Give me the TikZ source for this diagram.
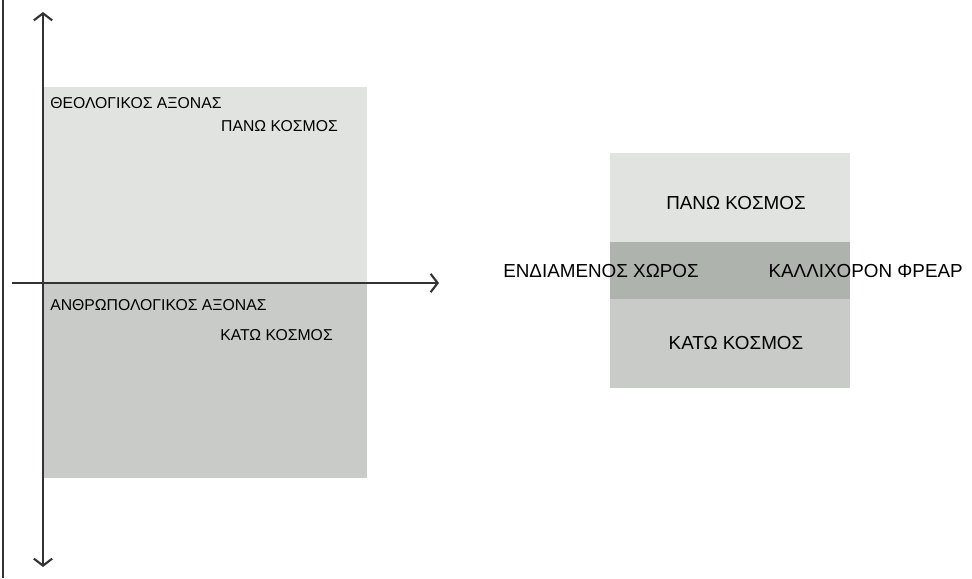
\documentclass[tikz,border=0pt]{standalone}
\usepackage{fontspec}
\setmainfont{Liberation Sans}
\usetikzlibrary{arrows.meta}

\definecolor{upper}{HTML}{E1E3E0}
\definecolor{middle}{HTML}{AEB3AD}
\definecolor{lower}{HTML}{C9CBC8}

\begin{document}
\begin{tikzpicture}[x=0.025cm,y=-0.025cm,
      axis/.style={line width=1.3pt,draw=black!80,-{Straight Barb[length=5pt,width=13pt,line width=1.5pt]}},
      small/.style={font=\fontsize{11.2}{13}\selectfont,inner sep=0pt},
      big/.style={font=\fontsize{13.4}{15}\selectfont,inner sep=0pt}]
    \useasboundingbox (0,0) rectangle (972,578);
    % left side: two worlds and the two axes
    \fill[upper] (43,87) rectangle (367,283);
    \fill[lower] (43,283) rectangle (367,478);
    \draw[line width=1.3pt,draw=black!80] (3,0) -- (3,578);
    \coordinate (top) at (43,12);
    \coordinate (bottom) at (43,567);
    \coordinate (west) at (12,283);
    \coordinate (east) at (439,283);
    \coordinate (origin) at (43,283);
    \draw[axis] (origin) -- (top);
    \draw[axis] (origin) -- (bottom);
    \draw[axis] (west) -- (east);
    \node[small,anchor=base west] (theo) at (50,108) {ΘΕΟΛΟΓΙΚΟΣ ΑΞΟΝΑΣ};
    \node[small,anchor=base east] (pano) at (338,132) {ΠΑΝΩ ΚΟΣΜΟΣ};
    \node[small,anchor=base west] (anthro) at (50,310) {ΑΝΘΡΩΠΟΛΟΓΙΚΟΣ ΑΞΟΝΑΣ};
    \node[small,anchor=base east] (kato) at (333,340) {ΚΑΤΩ ΚΟΣΜΟΣ};
    % right side: the three bands
    \fill[upper] (610,153) rectangle (850,242);
    \fill[middle] (610,242) rectangle (850,299);
    \fill[lower] (610,299) rectangle (850,388);
    \node[big,anchor=base] (pano2) at (736,209) {ΠΑΝΩ ΚΟΣΜΟΣ};
    \node[big,anchor=base west] (endia) at (503,277) {ΕΝΔΙΑΜΕΝΟΣ ΧΩΡΟΣ};
    \node[big,anchor=base east] (kalli) at (963,277) {ΚΑΛΛΙΧΟΡΟΝ ΦΡΕΑΡ};
    \node[big,anchor=base] (kato2) at (736,349) {ΚΑΤΩ ΚΟΣΜΟΣ};
\end{tikzpicture}
\end{document}
